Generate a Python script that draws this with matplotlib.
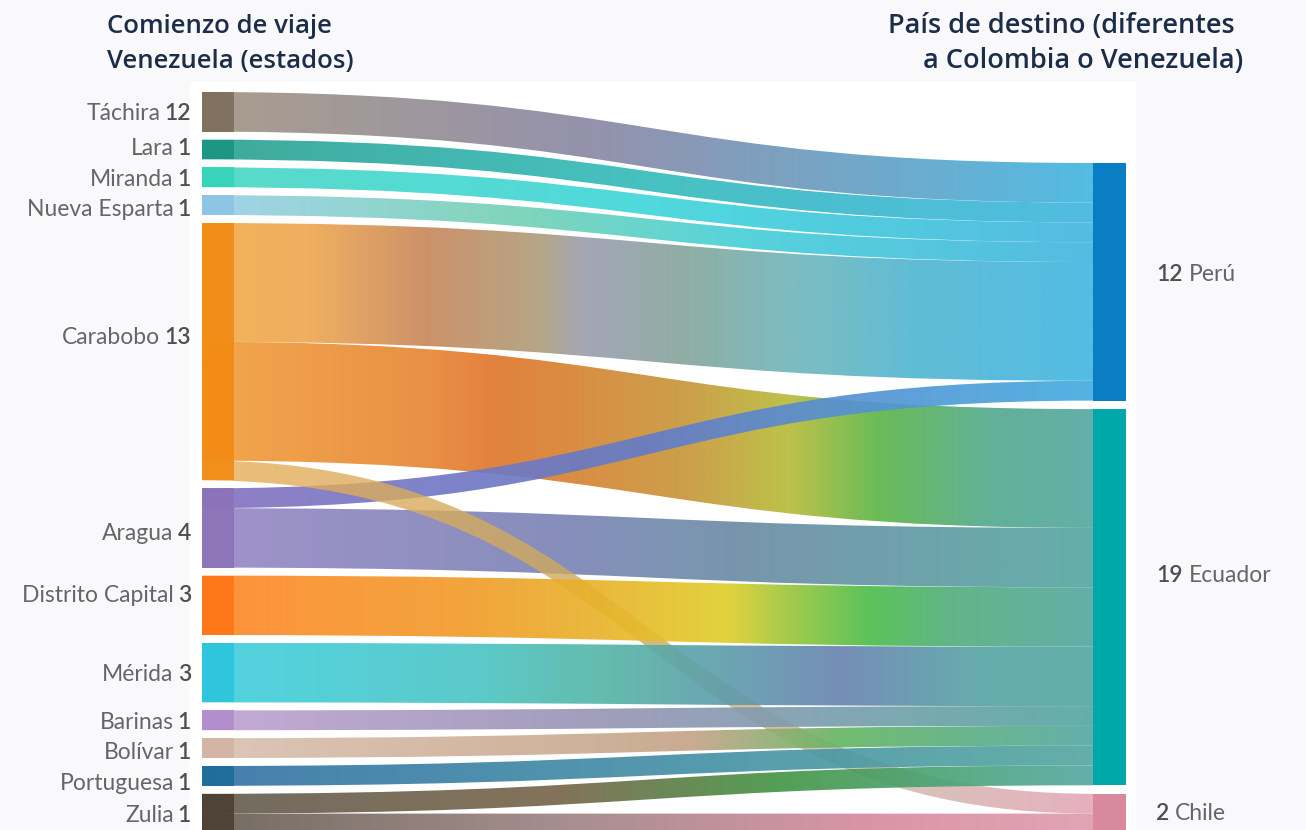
import numpy as np
import matplotlib
matplotlib.use("Agg")
import matplotlib.pyplot as plt
from matplotlib.path import Path
from matplotlib.patches import PathPatch, Rectangle
from matplotlib.colors import LinearSegmentedColormap

# ---- data -------------------------------------------------------------
sources = ['Táchira', 'Lara', 'Miranda', 'Nueva Esparta', 'Carabobo', 'Aragua',
           'Distrito Capital', 'Mérida', 'Barinas', 'Bolívar', 'Portuguesa', 'Zulia']
source_counts = [12, 1, 1, 1, 13, 4, 3, 3, 1, 1, 1, 1]   # numbers printed in the labels
targets = ['Perú', 'Ecuador', 'Chile']
target_counts = [12, 19, 2]

flow_src = ['Táchira', 'Lara', 'Miranda', 'Nueva Esparta', 'Carabobo', 'Carabobo',
            'Carabobo', 'Aragua', 'Aragua', 'Distrito Capital', 'Mérida', 'Barinas',
            'Bolívar', 'Portuguesa', 'Zulia', 'Zulia']
flow_dst = ['Perú', 'Perú', 'Perú', 'Perú', 'Perú', 'Ecuador',
            'Chile', 'Perú', 'Ecuador', 'Ecuador', 'Ecuador', 'Ecuador',
            'Ecuador', 'Ecuador', 'Ecuador', 'Chile']
flow_val = [2, 1, 1, 1, 6, 6, 1, 1, 3, 3, 3, 1, 1, 1, 1, 1]

# ---- style / layout ---------------------------------------------------
W, H = 1306, 830
UNIT = 19.8
LEFT_TOP, LEFT_GAP = 92, 8
RIGHT_TOP, RIGHT_GAP = 163, 8.5
LX0, LX1 = 202, 234          # left node x-range
RX0, RX1 = 1093, 1126        # right node x-range

node_color = {
    'Táchira': '#7d6e5c', 'Lara': '#1a9484', 'Miranda': '#34d4b8', 'Nueva Esparta': '#8cc4e4',
    'Carabobo': '#f28a12', 'Aragua': '#8a72b8', 'Distrito Capital': '#ff7414',
    'Mérida': '#2cc4dc', 'Barinas': '#b28ccc', 'Bolívar': '#d4b4a4',
    'Portuguesa': '#1c6c98', 'Zulia': '#4a3f32',
    'Perú': '#0a7ec4', 'Ecuador': '#00a9a9', 'Chile': '#d88a9c',
}

# gradient stops per flow (same order as the flow lists)
flow_grad = [
    [(0, '#a39582'), (0.45, '#8a88a6'), (1, '#44b6e0')],
    [(0, '#2ea292'), (0.5, '#36bcbc'), (1, '#42b6e0')],
    [(0, '#4ad8c4'), (0.5, '#40d6da'), (1, '#44b6e0')],
    [(0, '#9ccfe8'), (0.35, '#76d2b4'), (0.6, '#48cfd8'), (1, '#44b6e0')],
    [(0, '#f2aa48'), (0.12, '#eea852'), (0.25, '#c8885c'), (0.38, '#ae9e7c'),
     (0.43, '#9c9eb0'), (0.54, '#86a69c'), (0.66, '#72b6ba'), (0.8, '#52b6d2'), (1, '#44b6e2')],
    [(0, '#f2a03c'), (0.25, '#e88636'), (0.33, '#e0762c'), (0.54, '#c8963a'),
     (0.66, '#b8bc3a'), (0.76, '#5cb648'), (0.88, '#54aa8c'), (1, '#56a8a2')],
    [(0, '#e8ae58'), (0.25, '#d8ac5c'), (0.5, '#c8a860'), (0.75, '#ccb8a6'), (1, '#e09cae')],
    [(0, '#8674c0'), (0.5, '#647cc8'), (1, '#44ace0')],
    [(0, '#9888c6'), (0.4, '#7c84b6'), (0.6, '#6c8ca6'), (1, '#56a8a2')],
    [(0, '#ff882a'), (0.3, '#f29c2a'), (0.45, '#e8b42a'), (0.59, '#e0ce2c'),
     (0.66, '#9cc63c'), (0.75, '#4cbe4c'), (0.84, '#54ae7c'), (1, '#56a8a2')],
    [(0, '#42d0e0'), (0.3, '#4cc6c6'), (0.45, '#56b6a6'), (0.72, '#6884b0'),
     (0.88, '#58a6a6'), (1, '#56a8a2')],
    [(0, '#c0a2d2'), (0.45, '#9896b6'), (1, '#56a8a2')],
    [(0, '#dac2b2'), (0.55, '#c6a488'), (0.72, '#64b664'), (1, '#56a8a2')],
    [(0, '#3474a6'), (0.5, '#448ea6'), (1, '#56a8a2')],
    [(0, '#665e52'), (0.4, '#78664a'), (0.65, '#449646'), (0.85, '#4ca67c'), (1, '#56a8a2')],
    [(0, '#665e52'), (0.4, '#9e8484'), (0.75, '#d68c9e'), (1, '#e09cae')],
]
flow_alpha = [0.92] * len(flow_val)
flow_alpha[6] = 0.8   # Carabobo -> Chile strand

# links are painted source by source; the Chile strand after Aragua's links
draw_order = [0, 1, 2, 3, 4, 5, 7, 8, 6, 9, 10, 11, 12, 13, 14, 15]

left_dy = {'Carabobo': -16, 'Distrito Capital': -12, 'Lara': -3, 'Aragua': 4,
           'Portuguesa': 6, 'Nueva Esparta': 3, 'Bolívar': 3}
right_dy = {'Perú': -9, 'Ecuador': -23, 'Chile': -2}

plt.rcParams['font.family'] = ['Lato', 'DejaVu Sans']

# ---- layout computation ----------------------------------------------
def stack(names, weights, top, gap):
    pos = {}
    y = top
    for n in names:
        pos[n] = y
        y += weights[n] * UNIT + gap
    return pos

src_weight = {s: 0 for s in sources}
dst_weight = {t: 0 for t in targets}
for s, t, v in zip(flow_src, flow_dst, flow_val):
    src_weight[s] += v
    dst_weight[t] += v
src_top = stack(sources, src_weight, LEFT_TOP, LEFT_GAP)
dst_top = stack(targets, dst_weight, RIGHT_TOP, RIGHT_GAP)

# outgoing offsets ordered by target, incoming ordered by source
src_off = dict(src_top)
dst_off = dict(dst_top)
order = sorted(range(len(flow_val)), key=lambda i: (sources.index(flow_src[i]), targets.index(flow_dst[i])))
y0 = {}
for i in order:
    y0[i] = src_off[flow_src[i]]
    src_off[flow_src[i]] += flow_val[i] * UNIT
order_in = sorted(range(len(flow_val)), key=lambda i: (targets.index(flow_dst[i]), sources.index(flow_src[i])))
y1 = {}
for i in order_in:
    y1[i] = dst_off[flow_dst[i]]
    dst_off[flow_dst[i]] += flow_val[i] * UNIT

# ---- figure -------------------------------------------------------------
fig = plt.figure(figsize=(W / 100, H / 100), dpi=100)
fig.patch.set_facecolor('#f9f9fb')
ax = fig.add_axes([0, 0, 1, 1])
ax.set_xlim(0, W)
ax.set_ylim(H, 0)
ax.axis('off')
ax.add_patch(Rectangle((190, 82), 945, H, color='white', zorder=0))


def flow_path(xa, xb, ya_t, ya_b, yb_t, yb_b):
    xm = (xa + xb) / 2
    verts = [(xa, ya_t), (xm, ya_t), (xm, yb_t), (xb, yb_t),
             (xb, yb_b), (xm, yb_b), (xm, ya_b), (xa, ya_b), (xa, ya_t)]
    codes = [Path.MOVETO, Path.CURVE4, Path.CURVE4, Path.CURVE4,
             Path.LINETO, Path.CURVE4, Path.CURVE4, Path.CURVE4, Path.CLOSEPOLY]
    return Path(verts, codes)


for z, i in enumerate(draw_order):
    h = flow_val[i] * UNIT
    path = flow_path(LX0, RX0, y0[i], y0[i] + h, y1[i], y1[i] + h)
    cmap = LinearSegmentedColormap.from_list('f%d' % i, flow_grad[i])
    grad = cmap(np.linspace(0, 1, 512))[None, :, :]
    grad[..., 3] = flow_alpha[i]
    ymin = min(y0[i], y1[i]) - 2
    ymax = max(y0[i], y1[i]) + h + 2
    im = ax.imshow(grad, extent=(LX0, RX0, ymax, ymin), aspect='auto',
                   interpolation='bilinear', zorder=2 + z * 0.01)
    patch = PathPatch(path, transform=ax.transData, facecolor='none', edgecolor='none')
    im.set_clip_path(patch)

ax.set_xlim(0, W)
ax.set_ylim(H, 0)

# nodes
for s in sources:
    ax.add_patch(Rectangle((LX0, src_top[s]), LX1 - LX0, src_weight[s] * UNIT,
                           color=node_color[s], alpha=0.9, lw=0, zorder=3))
for t in targets:
    ax.add_patch(Rectangle((RX0, dst_top[t]), RX1 - RX0, dst_weight[t] * UNIT,
                           color=node_color[t], lw=0, zorder=3))

# ---- labels -------------------------------------------------------------
renderer = fig.canvas.get_renderer()
LBL_SIZE = 16.5
cap = LBL_SIZE / 72 * 100 * 0.72
name_col, num_col = '#666666', '#4f4f4f'

for s, n in zip(sources, source_counts):
    cy = src_top[s] + src_weight[s] * UNIT / 2 + left_dy.get(s, 0)
    tn = ax.text(191, cy + cap / 2, str(n), ha='right', va='baseline',
                 fontsize=LBL_SIZE, color=num_col, fontweight='semibold')
    w = tn.get_window_extent(renderer).width
    ax.text(191 - w - 4, cy + cap / 2, s, ha='right', va='baseline',
            fontsize=LBL_SIZE, color=name_col, fontweight='normal')

for t, n in zip(targets, target_counts):
    cy = dst_top[t] + dst_weight[t] * UNIT / 2 + right_dy.get(t, 0)
    tn = ax.text(1156, cy + cap / 2, str(n), ha='left', va='baseline',
                 fontsize=LBL_SIZE, color=num_col, fontweight='semibold')
    w = tn.get_window_extent(renderer).width
    ax.text(1156 + w + 6, cy + cap / 2, t, ha='left', va='baseline',
            fontsize=LBL_SIZE, color=name_col, fontweight='normal')

head_col = '#1b2d48'
head_font = ['Open Sans', 'DejaVu Sans']
ax.text(107, 33, 'Comienzo de viaje', ha='left', va='baseline', fontsize=18.5,
        color=head_col, fontweight='semibold', family=head_font)
ax.text(107, 68, 'Venezuela (estados)', ha='left', va='baseline', fontsize=18.5,
        color=head_col, fontweight='semibold', family=head_font)
ax.text(1235, 33, 'País de destino (diferentes', ha='right', va='baseline', fontsize=19.5,
        color=head_col, fontweight='semibold', family=head_font)
ax.text(1243, 68, 'a Colombia o Venezuela)', ha='right', va='baseline', fontsize=19.5,
        color=head_col, fontweight='semibold', family=head_font)

fig.savefig('out.png', dpi=100, facecolor=fig.get_facecolor())
